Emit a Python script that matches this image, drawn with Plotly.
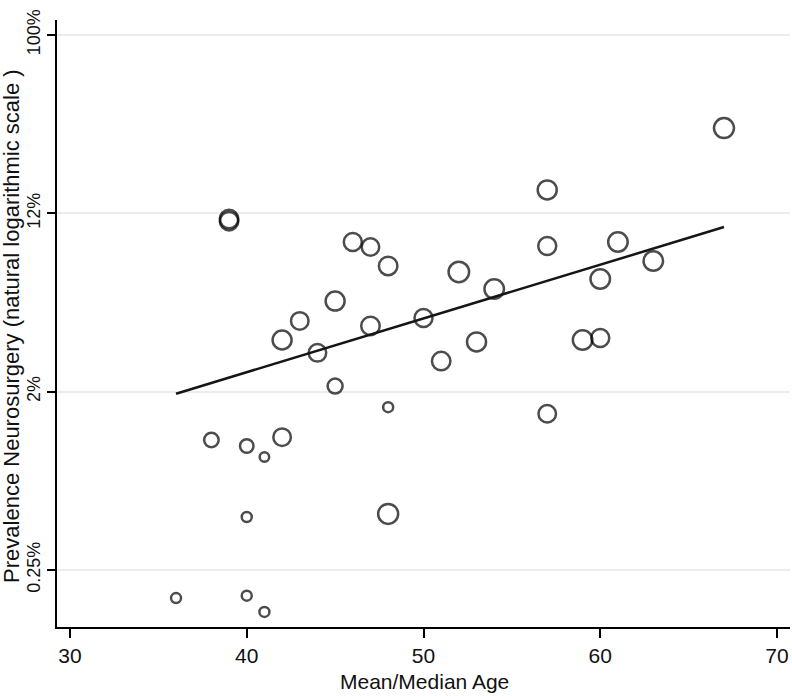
import numpy as np
import plotly.graph_objects as go

# ---- data ----
age = [36, 38, 39, 39, 40, 40, 40, 41, 41, 42, 42, 43, 44, 45, 45, 46, 47, 47,
       48, 48, 48, 50, 51, 52, 53, 54, 57, 57, 57, 59, 60, 60, 61, 63, 67]
prevalence_pct = [0.181, 1.065, 12.7, 12.4, 0.996, 0.449, 0.186, 0.880, 0.155,
                  3.27, 1.10, 4.05, 2.83, 5.06, 1.95, 9.82, 9.28, 3.83,
                  7.50, 1.54, 0.465, 4.18, 2.58, 7.01, 3.20, 5.79,
                  17.6, 9.39, 1.43, 3.27, 3.34, 6.48, 9.82, 7.93, 35.2]
study_weight = [10, 14.5, 18.5, 18.5, 13.5, 10, 10, 9.5, 10,
                19, 17.5, 17.5, 17.5, 19, 15, 18, 17.5, 18.5,
                18.5, 10, 20, 18, 18.5, 20.5, 19, 19.5,
                19, 18, 17.5, 19.5, 18, 19.5, 19.5, 19.5, 20]

fit_age = [36, 67]
fit_prev_pct = [1.79, 11.6]

ytick_ln = [-6, -4, -2, 0]
ytick_text = ["0.25%", "2%", "12%", "100%"]
xtick_vals = [30, 40, 50, 60, 70]

x_title = "Mean/Median Age"
y_title = "Prevalence Neurosurgery (natural logarithmic scale )"

# natural-log scale of the proportion
y_ln = np.log(np.array(prevalence_pct) / 100.0)
fit_ln = np.log(np.array(fit_prev_pct) / 100.0)

FONT = "Liberation Sans, Arial, sans-serif"
INK = "#000000"

fig = go.Figure()
fig.add_trace(go.Scatter(
    x=age, y=y_ln, mode="markers",
    marker=dict(symbol="circle-open", size=study_weight, sizemode="diameter",
                color=INK, line=dict(width=2.5, color=INK)),
    showlegend=False, hoverinfo="skip"))
fig.add_trace(go.Scatter(
    x=fit_age, y=fit_ln, mode="lines",
    line=dict(color="#151515", width=2.5),
    showlegend=False, hoverinfo="skip"))

fig.update_layout(
    width=792, height=696,
    margin=dict(l=57, r=2, t=20, b=69),
    paper_bgcolor="white", plot_bgcolor="white",
    font=dict(family=FONT, color=INK),
    xaxis=dict(
        range=[29.265, 70.735], tickvals=xtick_vals, automargin=False,
        ticks="outside", ticklen=9, tickwidth=1.5, tickcolor=INK,
        showline=True, linecolor=INK, linewidth=2,
        showgrid=False, zeroline=False,
        tickfont=dict(size=21, family=FONT, color="#111111"),
    ),
    yaxis=dict(
        range=[-6.639, 0.168], tickvals=ytick_ln, ticktext=ytick_text,
        tickangle=-90, automargin=False,
        ticks="outside", ticklen=8, tickwidth=1.5, tickcolor=INK,
        showline=True, linecolor=INK, linewidth=2,
        showgrid=True, gridcolor="#ececec", gridwidth=2,
        zeroline=False,
        tickfont=dict(size=18, family=FONT, color="#111111"),
    ),
    annotations=[
        dict(text=x_title, xref="paper", yref="paper", x=0.502, y=-0.0906,
             xanchor="center", yanchor="middle", showarrow=False,
             font=dict(size=21, family=FONT, color="#111111")),
        dict(text=y_title, xref="paper", yref="paper", x=-0.0614, y=0.496,
             xanchor="center", yanchor="middle", showarrow=False, textangle=-90,
             borderpad=0,
             font=dict(size=22, family=FONT, color="#111111")),
    ],
)

fig.write_html("out.html", config={"displayModeBar": False},
               post_script="document.body.style.margin='0px';document.body.style.overflow='hidden';")
